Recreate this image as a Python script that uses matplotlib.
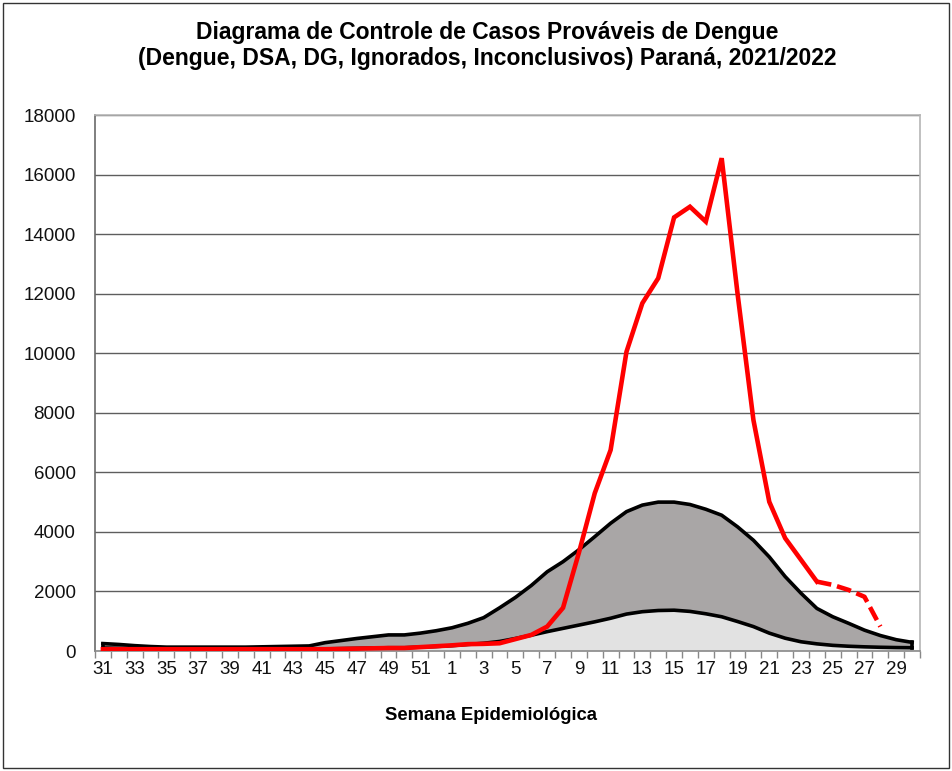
import numpy as np
import matplotlib
matplotlib.use("Agg")
import matplotlib.pyplot as plt
from matplotlib.patches import Rectangle

plt.rcParams['font.family'] = ['Liberation Sans', 'DejaVu Sans']

weeks = list(range(31, 53)) + list(range(1, 31))

upper = [250, 220, 180, 150, 130, 130, 130, 130, 130, 130, 140, 150, 160, 170,
         280, 350, 420, 480, 540, 540, 600, 680,
         780, 930, 1120, 1450, 1800, 2200, 2660, 3000, 3400, 3840, 4290, 4680,
         4900, 5000, 5000, 4920, 4760, 4560, 4170, 3720, 3160, 2500, 1940, 1430,
         1150, 930, 700, 520, 380, 290]

lower = [100, 90, 80, 70, 60, 60, 60, 60, 60, 60, 60, 60, 60, 60,
         70, 80, 90, 100, 110, 110, 130, 150,
         180, 220, 260, 320, 420, 530, 650, 760, 870, 980, 1100, 1240,
         1320, 1360, 1370, 1330, 1250, 1150, 990, 820, 600, 430, 310, 240,
         190, 160, 140, 125, 115, 110]

casos = [60, 60, 60, 60, 60, 60, 60, 60, 60, 60, 60, 60, 60, 60,
         60, 70, 80, 90, 100, 100, 130, 160,
         190, 230, 240, 260, 400, 540, 820, 1450, 3300, 5300, 6750, 10050,
         11680, 12520, 14560, 14920, 14420, 16550, 12000, 7760, 5010, 3790,
         3060, 2330, 2220, 2050, 1820, 820, np.nan, np.nan]

n_solid = 46  # solid up to week 24 (index 45), dashed afterwards

x = np.arange(len(weeks))
upper = np.array(upper, float)
lower = np.array(lower, float)
casos = np.array(casos, float)

fig = plt.figure(figsize=(9.53, 7.71), dpi=100)
ax = fig.add_axes([95/953, 1-651/771, 825/953, 536/771])

ax.set_axisbelow(True)
ax.yaxis.grid(True, color='#5e5e5e', linewidth=1.0)

ax.fill_between(x, 0, lower, color='#e2e2e2', linewidth=0, zorder=2)
ax.fill_between(x, lower, upper, color='#a9a6a6', linewidth=0, zorder=2)
ax.plot(x, upper, color='black', linewidth=2.6, zorder=3, solid_joinstyle='round')
ax.plot(x, lower, color='black', linewidth=2.6, zorder=3, solid_joinstyle='round')
ax.plot([x[-1], x[-1]], [lower[-1], upper[-1]], color='black', linewidth=2.6, zorder=3)
ax.plot([x[0], x[0]], [lower[0], upper[0]], color='black', linewidth=2.6, zorder=3)

ax.plot(x[:n_solid], casos[:n_solid], color='#ff0000', linewidth=3.3, zorder=4,
        solid_joinstyle='miter')
ax.plot(x[n_solid-1:], casos[n_solid-1:], color='#ff0000', linewidth=3.3, zorder=4,
        linestyle=(0, (3.2, 1.3)))

ax.set_xlim(-0.5, len(weeks) - 0.5)
ax.set_ylim(0, 18000)
ax.set_yticks(np.arange(0, 18001, 2000))
ax.tick_params(axis='y', length=0, labelsize=13.5, pad=14, labelcolor='#111111')

ax.set_xticks(x[::2])
ax.set_xticklabels([str(w) for w in weeks[::2]])
ax.set_xticks(np.arange(-0.5, len(weeks), 1.0), minor=True)
ax.tick_params(axis='x', which='major', length=0, labelsize=13.5, pad=7,
               labelcolor='#111111')
ax.tick_params(axis='x', which='minor', length=5, width=1, color='#888888',
               direction='out')

ax.spines['left'].set_color('#6a6a6a')
ax.spines['bottom'].set_color('#8a8a8a')
ax.spines['top'].set_color('#b5b5b5')
ax.spines['right'].set_color('#b5b5b5')
for s in ax.spines.values():
    s.set_linewidth(1.2)

fig.text(0.511, 1-33/771, 'Diagrama de Controle de Casos Prováveis de Dengue',
         ha='center', va='center', fontsize=16.5, fontweight='bold')
fig.text(0.511, 1-59/771, '(Dengue, DSA, DG, Ignorados, Inconclusivos) Paraná, 2021/2022',
         ha='center', va='center', fontsize=16.5, fontweight='bold')
fig.text(491/953, 1-716/771, 'Semana Epidemiológica', ha='center', va='center',
         fontsize=13.3, fontweight='bold')

fig.patches.append(Rectangle((3/953, 3/771), 946/953, 765/771, transform=fig.transFigure,
                             fill=False, edgecolor='#333333', linewidth=1.0))

fig.savefig('out.png', dpi=100)
